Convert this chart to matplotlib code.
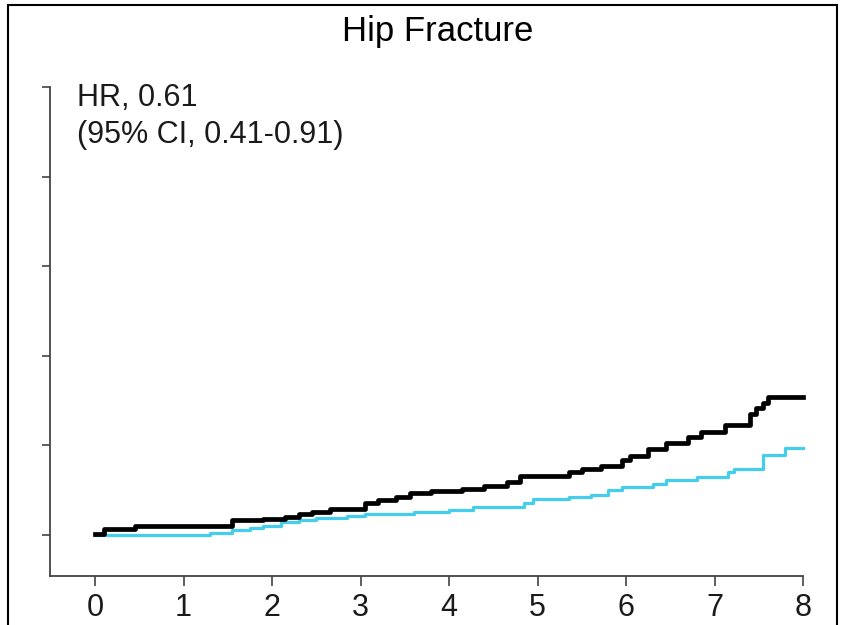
import matplotlib
matplotlib.use("Agg")
from matplotlib import pyplot as plt
from matplotlib.patches import Rectangle

plt.rcParams['font.family'] = ['Liberation Sans', 'DejaVu Sans']

# cumulative hazard (%)
black_t = [0.0, 0.1, 0.45, 1.55, 1.9, 2.15, 2.3, 2.45, 2.65, 3.05, 3.2, 3.4, 3.56, 3.8,
           4.15, 4.4, 4.65, 4.8, 5.35, 5.5, 5.72, 5.95, 6.05, 6.25, 6.45, 6.7, 6.85,
           7.12, 7.4, 7.47, 7.55, 7.6, 8.0]
black_y = [0.01, 0.06, 0.10, 0.16, 0.18, 0.20, 0.23, 0.26, 0.29, 0.35, 0.39, 0.42, 0.47, 0.49,
           0.51, 0.55, 0.59, 0.66, 0.70, 0.74, 0.77, 0.83, 0.88, 0.96, 1.02, 1.09, 1.15,
           1.23, 1.35, 1.42, 1.47, 1.54, 1.54]
cyan_t = [0.0, 1.3, 1.55, 1.75, 1.9, 2.1, 2.3, 2.5, 2.85, 3.05, 3.6, 4.0, 4.27, 4.85,
          4.95, 5.35, 5.6, 5.8, 5.95, 6.3, 6.45, 6.8, 7.15, 7.22, 7.55, 7.8, 8.0]
cyan_y = [0.0, 0.02, 0.05, 0.08, 0.10, 0.14, 0.17, 0.19, 0.21, 0.23, 0.25, 0.28, 0.31, 0.36,
          0.40, 0.42, 0.45, 0.50, 0.53, 0.57, 0.61, 0.64, 0.70, 0.74, 0.89, 0.97, 0.97]
x_ticks = [0, 1, 2, 3, 4, 5, 6, 7, 8]
y_ticks = [0, 1, 2, 3, 4, 5]

W, H = 843, 625
fig = plt.figure(figsize=(W / 100, H / 100), dpi=100)
ax = fig.add_axes([50 / W, (H - 576) / H, (803 - 50) / W, (576 - 87) / H])

ax.step(cyan_t, cyan_y, where='post', color='#45cdec', lw=2.3, clip_on=False)
ax.step(black_t, black_y, where='post', color='black', lw=3.4, clip_on=False)

ax.set_xlim(-0.51, 8.0)
ax.set_ylim(-0.46, 5.0)
ax.set_xticks(x_ticks)
ax.set_yticks(y_ticks)
ax.set_yticklabels([])
ax.tick_params(axis='x', direction='out', length=7, width=1.2, color='#444444',
               labelsize=22, pad=5, labelcolor='#1a1a1a')
ax.tick_params(axis='y', direction='out', length=6, width=1.2, color='#444444')
for s in ['top', 'right']:
    ax.spines[s].set_visible(False)
for s in ['left', 'bottom']:
    ax.spines[s].set_color('#444444')
    ax.spines[s].set_linewidth(1.3)

fig.text(77 / W, 1 - 106 / H, 'HR, 0.61', fontsize=22, va='baseline', ha='left',
         color='#1a1a1a')
fig.text(77 / W, 1 - 143 / H, '(95% CI, 0.41-0.91)', fontsize=22, va='baseline',
         ha='left', color='#1a1a1a')
fig.text(438 / W, 1 - 32 / H, 'Hip Fracture', fontsize=25, ha='center', va='center')

# frame around the figure
fig.patches.append(Rectangle((8 / W, -0.01), (837 - 8) / W, 1 - 5 / H + 0.01,
                             transform=fig.transFigure, fill=False, lw=1.5,
                             edgecolor='black'))

fig.savefig('out.png', dpi=100)
